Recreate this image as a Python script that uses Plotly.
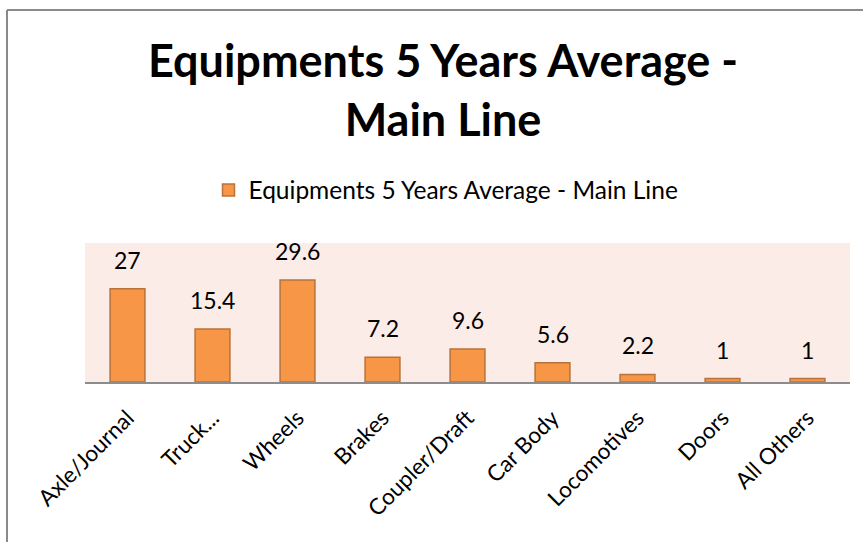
import plotly.graph_objects as go

categories = ["Axle/Journal", "Truck...", "Wheels", "Brakes", "Coupler/Draft",
              "Car Body", "Locomotives", "Doors", "All Others"]
values = [27, 15.4, 29.6, 7.2, 9.6, 5.6, 2.2, 1, 1]
value_labels = ["27", "15.4", "29.6", "7.2", "9.6", "5.6", "2.2", "1", "1"]
series_name = "Equipments 5 Years Average - Main Line"
title_text = "Equipments 5 Years Average -<br>Main Line"

FONT = "Lato"
W, H = 863, 542
L, R, T, B = 85, 13, 243, 160
pw, ph = W - L - R, H - T - B

def px_x(x):
    return (x - L) / pw

def px_y(y):
    return (H - B - y) / ph

fig = go.Figure()
fig.add_trace(go.Bar(
    x=categories, y=values, name=series_name,
    marker=dict(color="#F79646", line=dict(color="#B8733A", width=1.5)),
    width=0.41, showlegend=True,
))

for c, v, t in zip(categories, values, value_labels):
    fig.add_annotation(x=c, y=v, text=t, showarrow=False, yanchor="bottom",
                       yshift=13, font=dict(family=FONT, size=23, color="#000000"))

fig.update_layout(
    width=W, height=H,
    margin=dict(l=L, r=R, t=T, b=B, autoexpand=False),
    paper_bgcolor="white",
    plot_bgcolor="#FCECE7",
    title=dict(text="<b>" + title_text + "</b>", x=443 / W, xanchor="center",
               xref="container", yref="container", y=1 - 77 / H, yanchor="middle",
               font=dict(family=FONT, size=45, color="#000000")),
    showlegend=True,
    legend=dict(orientation="h", x=px_x(446), xanchor="center", y=px_y(190),
                yanchor="middle", font=dict(family=FONT, size=24.5, color="#000000"),
                bgcolor="rgba(0,0,0,0)"),
    xaxis=dict(tickangle=-45, showgrid=False, showline=True, linecolor="#8C8C8C",
               linewidth=2, ticks="", tickfont=dict(family=FONT, size=22.5, color="#000000"),
               ticklabelstandoff=12),
    yaxis=dict(range=[0, 40.3], visible=False, showgrid=False, zeroline=False),
    bargap=0.59,
)

# chart border (top and left edges visible)
fig.add_shape(type="line", xref="paper", yref="paper",
              x0=px_x(7), x1=px_x(900), y0=px_y(10), y1=px_y(10),
              line=dict(color="#8A8A8A", width=2), layer="above")
fig.add_shape(type="line", xref="paper", yref="paper",
              x0=px_x(7), x1=px_x(7), y0=px_y(10), y1=px_y(600),
              line=dict(color="#8A8A8A", width=2), layer="above")

fig.write_html("out.html", config={"displayModeBar": False},
               post_script="document.body.style.margin='0';document.body.style.overflow='hidden';")
